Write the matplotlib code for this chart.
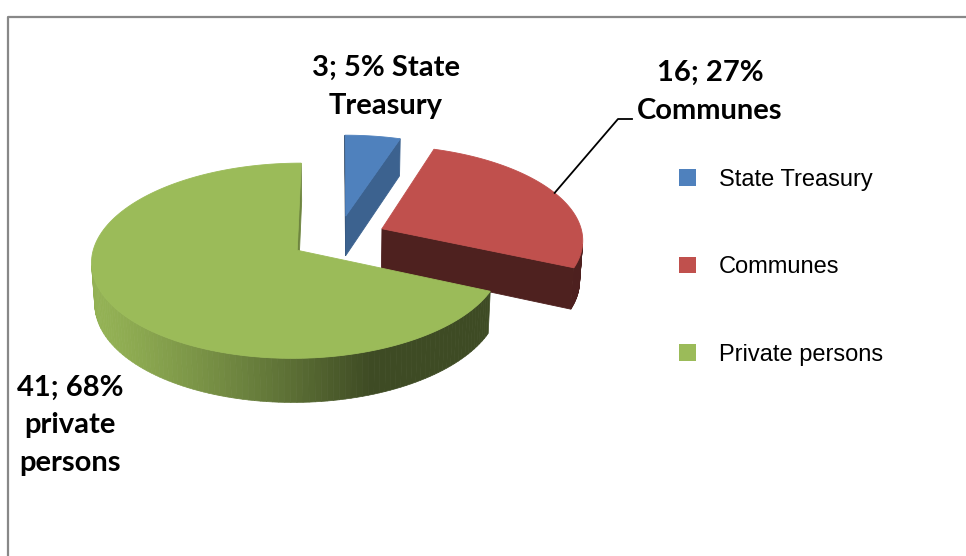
import numpy as np
import matplotlib.pyplot as plt
from matplotlib.patches import Polygon, Patch
from matplotlib.colors import to_rgb

# land ownership shares
categories = ["State Treasury", "Communes", "Private persons"]
values = [3, 16, 41]
label_tails = [" State\nTreasury", "\nCommunes", "\nprivate\npersons"]
colors = ["#4F81BD", "#C0504D", "#9BBB59"]

# 3D view of the pie (radius = 1)
TILT = np.radians(27.8)
SIN, COS = np.sin(TILT), np.cos(TILT)
DIST = 8.35          # camera distance
SCALE = 201.2        # pixels per radius at the centre plane
CX, CY = 338.3, 237.8
EXPLODE = 0.24
THICK = 0.23
CAM = np.array([0.0, -DIST * COS, DIST * SIN])


def project(x, y, z):
    zc = 1 + (y * COS - z * SIN) / DIST
    return CX + SCALE * x / zc, CY - SCALE * (y * SIN + z * COS) / zc


def facing(normal, point):
    return np.dot(normal, CAM - np.asarray(point)) > 0


def shade(color, k):
    return tuple(np.clip(np.array(to_rgb(color)) * k, 0, 1))


def side_k(theta):
    return 0.4 + 0.55 * max(0.0, np.cos(np.radians(theta - 200)))


def face_k(theta):
    return float(np.clip(0.366 + 0.40 * np.cos(np.radians(theta - 330)), 0.3, 1))


fig = plt.figure(figsize=(9.66, 5.56), dpi=100)
ax = fig.add_axes([0, 0, 1, 1])
ax.set_xlim(0, 966)
ax.set_ylim(556, 0)
ax.axis("off")

# chart frame
ax.plot([8, 8, 966], [556, 17, 17], color="#888888", lw=1.6, solid_capstyle="butt")

total = sum(values)
wedges = []
start = 90.0
for i, v in enumerate(values):
    span = 360.0 * v / total
    t1, t2 = start, start - span
    start = t2
    mid = np.radians((t1 + t2) / 2)
    ox, oy = EXPLODE * np.cos(mid), EXPLODE * np.sin(mid)
    cen = np.array([ox + 0.5 * np.cos(mid), oy + 0.5 * np.sin(mid), 0])
    depth = np.linalg.norm(CAM - cen)
    wedges.append((depth, i, t1, t2, ox, oy))

# farthest slice first
for depth, i, t1, t2, ox, oy in sorted(wedges, reverse=True):
    col = colors[i]
    th = np.linspace(t2, t1, 160)
    rx = ox + np.cos(np.radians(th))
    ry = oy + np.sin(np.radians(th))

    # curved outer side
    for j in range(len(th) - 1):
        tm = np.radians((th[j] + th[j + 1]) / 2)
        n = [np.cos(tm), np.sin(tm), 0]
        p = [ox + np.cos(tm), oy + np.sin(tm), 0]
        if not facing(n, p):
            continue
        quad = [project(rx[j], ry[j], 0), project(rx[j + 1], ry[j + 1], 0),
                project(rx[j + 1], ry[j + 1], -THICK), project(rx[j], ry[j], -THICK)]
        c = shade(col, side_k(np.degrees(tm) % 360))
        ax.add_patch(Polygon(quad, closed=True, facecolor=c, edgecolor=c, lw=0.5))

    # cut faces along the two radii
    for edge, nang in ((t1, t1 + 90), (t2, t2 - 90)):
        e = np.radians(edge)
        n = [np.cos(np.radians(nang)), np.sin(np.radians(nang)), 0]
        p = [ox + 0.5 * np.cos(e), oy + 0.5 * np.sin(e), -THICK / 2]
        if not facing(n, p):
            continue
        ex, ey = ox + np.cos(e), oy + np.sin(e)
        quad = [project(ox, oy, 0), project(ex, ey, 0),
                project(ex, ey, -THICK), project(ox, oy, -THICK)]
        c = shade(col, face_k(nang % 360))
        ax.add_patch(Polygon(quad, closed=True, facecolor=c, edgecolor=c, lw=0.6))

    # top
    top = [project(ox, oy, 0)] + [project(x, y, 0) for x, y in zip(rx, ry)]
    ax.add_patch(Polygon(top, closed=True, facecolor=col, edgecolor=col, lw=0.6))

# data labels
label_font = dict(family="Lato", weight="bold", size=21)
label_pos = [(386, 87), (710, 92), (70, 425)]
for i, v in enumerate(values):
    pct = 100.0 * v / total
    txt = f"{v}; {pct:.0f}%{label_tails[i]}"
    ax.text(*label_pos[i], txt, ha="center", va="center", linespacing=1.55,
            **label_font)

# leader line for Communes
d, i, t1, t2, ox, oy = [w for w in wedges if w[1] == 1][0]
m = np.radians((t1 + t2) / 2)
lx, ly = project(ox + np.cos(m), oy + np.sin(m), 0)
ax.plot([lx, 618, 632], [ly, 119, 119], color="black", lw=1.3)

handles = [Patch(facecolor=c, edgecolor="none") for c in colors]
ax.legend(handles, categories, loc="upper left", bbox_to_anchor=(679, 169),
          bbox_transform=ax.transData, frameon=False,
          prop=dict(family="Liberation Sans", size=17),
          handlelength=0.7, handleheight=0.7, handletextpad=1.0,
          labelspacing=2.77, borderpad=0, borderaxespad=0)

fig.savefig("out.png", dpi=100)
